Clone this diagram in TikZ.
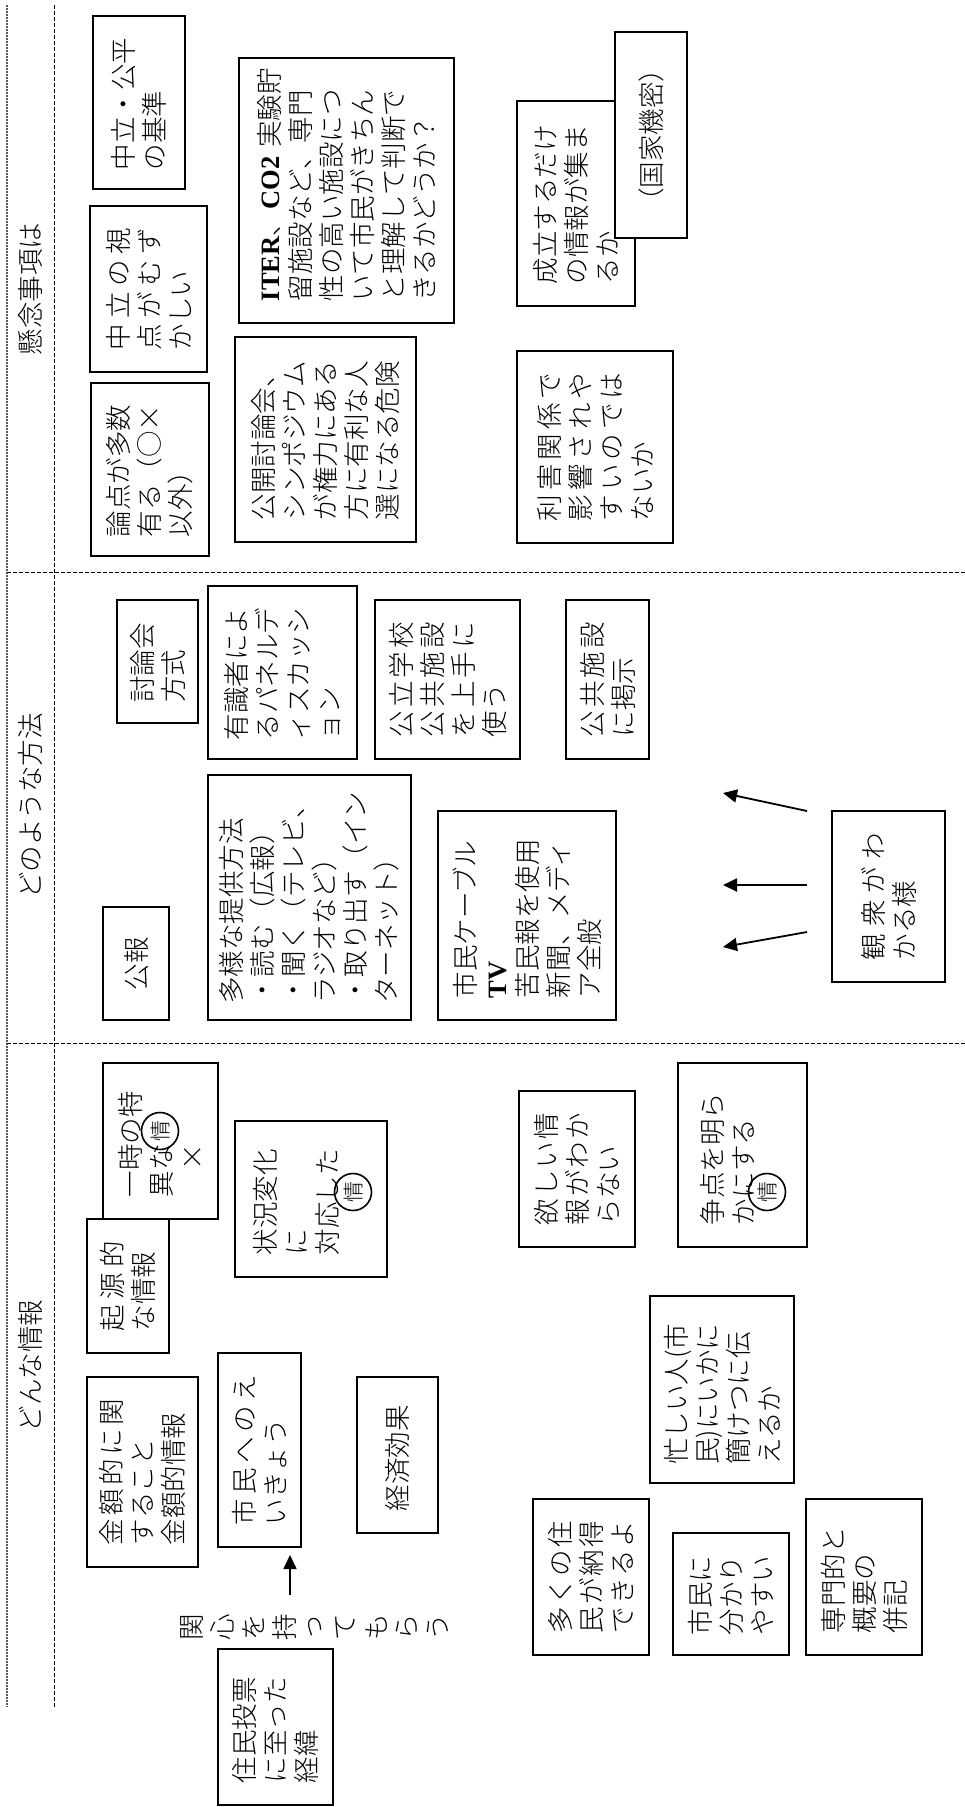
\documentclass[tikz,border=0pt]{standalone}
\usepackage{fontspec}
\setmainfont{Noto Sans CJK JP Light}
\newfontfamily\lat{Liberation Serif}
\usetikzlibrary{arrows.meta}
\def\spreadit#1#2\relax{#1\ifx\relax#2\relax\else\hfil\spreadit#2\relax\fi}
\newcommand\J[1]{\leavevmode\hbox to \linewidth{\spreadit#1\relax}}
\newcommand\jpsize{\fontsize{26.5pt}{31pt}\selectfont}
\newcommand\circsize{\fontsize{21pt}{24pt}\selectfont}
\tikzset{
  box/.style={draw, line width=1.4pt, rotate=90, inner sep=0pt, align=left, font=\jpsize},
  hdr/.style={rotate=90, inner sep=0pt, font=\jpsize},
  circ/.style={circle, draw, line width=1.6pt, rotate=90, inner sep=0pt, minimum size=37pt, font=\circsize},
  arr/.style={line width=1.8pt, -{Triangle[length=14pt,width=13pt]}},
  sepA/.style={line width=1.2pt, gray!70!black, dash pattern=on 2pt off 1pt},
  sepB/.style={line width=0.9pt, dash pattern=on 4pt off 2pt},
}
% #1 options, #2 name, #3 L, #4 T, #5 R, #6 B, #7 text
\newcommand\bx[7][]{%
  \pgfmathsetmacro\bxh{#6-#4}%
  \pgfmathsetmacro\bxw{#5-#3}%
  \pgfmathsetmacro\bxt{#6-#4-44}%
  \pgfmathsetmacro\bxx{(#3+#5)/2}%
  \pgfmathsetmacro\bxy{(#4+#6)/2}%
  \node[box, minimum width=\bxh pt, minimum height=\bxw pt, text width=\bxt pt, #1] (#2) at (\bxx,\bxy) {#7};}
\begin{document}
\begin{tikzpicture}[x=1pt,y=-1pt]
\fill[white] (0,0) rectangle (965,1807);
\useasboundingbox (0,0) rectangle (965,1807);
% separators
\draw[sepA] (7,5) -- (7,1707);
\draw[sepB] (54,5) -- (54,1707);
\draw[sepB] (7,572) -- (965,572);
\draw[sepB] (7,1043) -- (965,1043);
% headers
\node[hdr] (h1) at (30,289) {懸念事項は};
\node[hdr] (h2) at (30,806) {どのような方法};
\node[hdr] (h3) at (30,1366) {どんな情報};
% section 1
\bx[text width=135pt]{kijun}{93}{16}{185}{189}{中立・公平\\の基準}
\bx{shiten}{90}{206}{207}{372}{\J{中立の視}\\\J{点がむず}\\かしい}
\bx[text width=135pt]{ronten}{91}{383}{209}{556}{論点が多数\\有る（○×\\以外）}
\bx{iter}{239}{58}{454}{323}{\mbox{{\lat\bfseries ITER}、{\lat\bfseries CO2} 実験貯}\\留施設など、専門\\性の高い施設につ\\いて市民がきちん\\と理解して判断で\\きるかどうか？}
\bx{kokai}{235}{337}{416}{542}{公開討論会、\\シンポジウム\\が権力にある\\方に有利な人\\選になる危険}
\bx{seiritsu}{517}{101}{635}{306}{成立するだけ\\の情報が集ま\\るか}
\bx[align=center, fill=white]{kokka}{615}{32}{687}{238}{（国家機密）}
\bx{rigai}{517}{351}{673}{543}{\J{利害関係で}\\\J{影響されや}\\\J{すいのでは}\\ないか}
% section 2
\bx[text width=82pt]{toronkai}{117}{600}{198}{723}{討論会\\方式}
\bx[text width=135pt]{yushiki}{208}{586}{357}{759}{有識者によ\\るパネルデ\\ィスカッシ\\ョン}
\bx{koritsu}{375}{600}{520}{759}{\J{公立学校}\\\J{公共施設}\\\J{を上手に}\\使う}
\bx{keiji}{566}{600}{649}{759}{\J{公共施設}\\に掲示}
\bx[align=center]{koho}{103}{907}{169}{1020}{公報}
\bx[text width=212pt]{tayo}{208}{775}{411}{1020}{多様な提供方法\\・読む（広報）\\・聞く（テレビ、\\ラジオなど）\\・取り出す（イン\\ターネット）}
\bx{catv}{438}{811}{616}{1020}{市民ケーブル\\{\lat\bfseries TV}\\苦民報を使用\\新聞、メディ\\ア全般}
\bx{kanshu}{832}{811}{945}{982}{\J{観衆がわ}\\かる様}
\coordinate (p1s) at (807,811); \coordinate (p1e) at (723,793);
\coordinate (p2s) at (807,885); \coordinate (p2e) at (723,885);
\coordinate (p3s) at (807,932); \coordinate (p3e) at (723,947);
\draw[arr] (p1s) -- (p1e);
\draw[arr] (p2s) -- (p2e);
\draw[arr] (p3s) -- (p3e);
% section 3
\bx{ichiji}{103}{1063}{218}{1219}{一時の特\\異な\\　×}
\bx{kigen}{87}{1219}{169}{1353}{\J{起源的}\\な情報}
\bx{jokyo}{235}{1121}{387}{1277}{状況変化\\に\\対応した\\\mbox{}}
\bx{hoshii}{519}{1091}{635}{1247}{\J{欲しい情}\\\J{報がわか}\\らない}
\bx{soten}{678}{1063}{807}{1247}{争点を明ら\\かにする\\\mbox{}}
\node[circ] (c1) at (160,1131) {情};
\node[circ] (c2) at (353,1192) {情};
\node[circ] (c3) at (767,1192) {情};
\bx[text width=150pt]{isogashii}{650}{1296}{794}{1483}{忙しい人(市\\民)にいかに\\簡けつに伝\\えるか}
\bx{kingaku}{87}{1377}{198}{1567}{\J{金額的に関}\\すること\\金額的情報}
\bx{eikyo}{218}{1353}{301}{1547}{\J{市民へのえ}\\いきょう}
\bx{keizai}{357}{1377}{438}{1533}{経済効果}
\bx{keii}{218}{1649}{333}{1805}{住民投票\\に至った\\経緯}
\bx{nattoku}{533}{1499}{649}{1655}{\J{多くの住}\\\J{民が納得}\\\J{できるよ}}
\bx[text width=82pt]{wakari}{673}{1533}{789}{1655}{市民に\\分かり\\やすい}
\bx{heiki}{806}{1499}{922}{1655}{専門的と\\概要の\\併記}
\foreach \c [count=\i] in {関,心,を,持,っ,て,も,ら,う}
  \node[hdr] (k\i) at ({192+30.75*(\i-1)},1627) {\c};
\coordinate (q0) at (290,1595); \coordinate (q1) at (290,1555);
\draw[arr] (q0) -- (q1);
\end{tikzpicture}
\end{document}
